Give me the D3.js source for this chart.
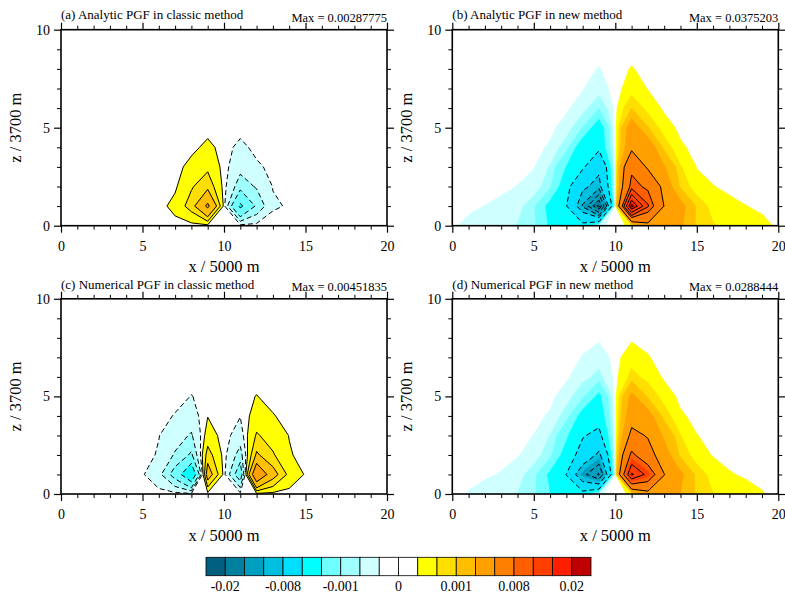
<!DOCTYPE html>
<html>
<head>
<meta charset="utf-8">
<script src="https://cdn.jsdelivr.net/npm/d3@7"></script>
<style>
  body { margin: 0; background: #fff; }
  text { font-family: "Liberation Serif", "DejaVu Serif", serif; fill: #000; }
</style>
</head>
<body>
<svg id="chart" width="785" height="594"></svg>
<script>
// all field values in units of 1e-3
const xTicks = [0, 5, 10, 15, 20];
const xMinor = [1, 2, 3, 4, 6, 7, 8, 9, 11, 12, 13, 14, 16, 17, 18, 19];
const zTicks = [0, 5, 10];
const zMinor = [1, 2, 3, 4, 6, 7, 8, 9];

const fillLevels = [-20, -15, -10, -8, -4, -2, -1, -0.5, -0.1, 0, 0.1, 0.5, 1, 2, 4, 8, 10, 15, 20];
const cbarLabels = ['-0.02', '-0.008', '-0.001', '0', '0.001', '0.008', '0.02'];
const cbarLabelAt = [1, 4, 7, 10, 13, 16, 19];

const titles = ['(a) Analytic PGF in classic method', '(b) Analytic PGF in new method',
                '(c) Numerical PGF in classic method', '(d) Numerical PGF in new method'];
const maxLabels = ['Max = 0.00287775', 'Max = 0.0375203', 'Max = 0.00451835', 'Max = 0.0288444'];

const linesA = [-2, -1, -0.5, -0.1, 0.1, 0.5, 1, 2];
const linesB = [-18, -16, -13, -10, -8, -4, 4, 8, 10, 13, 16, 18];
const linesC = [-2, -1, -0.5, -0.1, 0.1, 0.5, 1, 2];
const linesD = [-15, -12, -8, -4, 4, 8, 12, 15];

// rows are z = 0..10, columns x = 0..20
const fieldA = [
  [0,0,0,0,0,0,0,0,0,0,0,0,0,0,0,0,0,0,0,0,0],
  [0,0,0,0,0,0,0,0.2,0.7,2.2,0,-2.2,-0.87,-0.133,-0.078,0,0,0,0,0,0],
  [0,0,0,0,0,0,0,0.05,0.45,0.8,0,-0.75,-0.45,-0.09,-0.02,0,0,0,0,0,0],
  [0,0,0,0,0,0,0,0,0.2,0.4,0,-0.35,-0.15,-0.03,0,0,0,0,0,0,0],
  [0,0,0,0,0,0,0,0,0.02,0.18,0,-0.18,-0.02,0,0,0,0,0,0,0,0],
  [0,0,0,0,0,0,0,0,0,0,0,0,0,0,0,0,0,0,0,0,0],
  [0,0,0,0,0,0,0,0,0,0,0,0,0,0,0,0,0,0,0,0,0],
  [0,0,0,0,0,0,0,0,0,0,0,0,0,0,0,0,0,0,0,0,0],
  [0,0,0,0,0,0,0,0,0,0,0,0,0,0,0,0,0,0,0,0,0],
  [0,0,0,0,0,0,0,0,0,0,0,0,0,0,0,0,0,0,0,0,0],
  [0,0,0,0,0,0,0,0,0,0,0,0,0,0,0,0,0,0,0,0,0]
];

const fieldB = [
  [-0.07,-0.16,-0.22,-0.35,-0.55,-0.9,-2.2,-3.0,-3.0,-0.17,0,0.17,3.0,3.0,2.2,0.9,0.55,0.35,0.22,0.16,0.07],
  [0,-0.06,-0.105,-0.18,-0.3,-0.9,-2.5,-3.9,-10.3,-19,0,19,10.3,3.9,2.5,0.9,0.3,0.18,0.105,0.06,0],
  [0,0,-0.02,-0.04,-0.11,-0.2,-0.9,-3.0,-7.4,-9,0,9,7.4,3.0,0.9,0.2,0.11,0.04,0.02,0,0],
  [0,0,0,0,-0.02,-0.09,-0.55,-2.1,-3.5,-7.3,0,7.3,3.5,2.1,0.55,0.09,0.02,0,0,0,0],
  [0,0,0,0,0,-0.01,-0.15,-0.8,-3.0,-3.3,0,3.3,3.0,0.8,0.15,0.01,0,0,0,0,0],
  [0,0,0,0,0,0,-0.03,-0.25,-1.05,-2.9,0,2.9,1.05,0.25,0.03,0,0,0,0,0,0],
  [0,0,0,0,0,0,0,-0.05,-0.3,-1.0,0,1.0,0.3,0.05,0,0,0,0,0,0,0],
  [0,0,0,0,0,0,0,0,-0.09,-0.25,0,0.25,0.09,0,0,0,0,0,0,0,0],
  [0,0,0,0,0,0,0,0,-0.02,-0.12,0,0.12,0.02,0,0,0,0,0,0,0,0],
  [0,0,0,0,0,0,0,0,0,0,0,0,0,0,0,0,0,0,0,0,0],
  [0,0,0,0,0,0,0,0,0,0,0,0,0,0,0,0,0,0,0,0,0]
];

const fieldC = [
  [0,0,0,0,0,0,0,0,0,0,0,0,0,0,0,0,0,0,0,0,0],
  [0,0,0,0,0,-0.07,-0.35,-1.3,-3.2,1.4,0,-1.5,3.2,1.3,0.35,0.07,0,0,0,0,0],
  [0,0,0,0,0,0,-0.13,-0.55,-1.1,0.7,0,-0.7,1.1,0.55,0.13,0,0,0,0,0,0],
  [0,0,0,0,0,0,-0.09,-0.3,-0.55,0.25,0,-0.25,0.55,0.3,0.09,0,0,0,0,0,0],
  [0,0,0,0,0,0,0,-0.12,-0.25,0.09,0,-0.09,0.25,0.12,0,0,0,0,0,0,0],
  [0,0,0,0,0,0,0,0,-0.11,0,0,0,0.11,0,0,0,0,0,0,0,0],
  [0,0,0,0,0,0,0,0,0,0,0,0,0,0,0,0,0,0,0,0,0],
  [0,0,0,0,0,0,0,0,0,0,0,0,0,0,0,0,0,0,0,0,0],
  [0,0,0,0,0,0,0,0,0,0,0,0,0,0,0,0,0,0,0,0,0],
  [0,0,0,0,0,0,0,0,0,0,0,0,0,0,0,0,0,0,0,0,0],
  [0,0,0,0,0,0,0,0,0,0,0,0,0,0,0,0,0,0,0,0,0]
];

const fieldD = [
  [-0.02,-0.12,-0.2,-0.3,-0.52,-0.85,-2.0,-2.8,-2.8,-0.15,0,0.15,2.8,2.8,2.0,0.85,0.52,0.3,0.2,0.12,0.02],
  [0,-0.03,-0.07,-0.12,-0.3,-0.8,-2.3,-4.05,-11,-15.5,0,15.5,11,4.05,2.3,0.8,0.3,0.12,0.07,0.03,0],
  [0,0,-0.01,-0.03,-0.08,-0.25,-0.85,-2.7,-5,-8.83,0,8.83,5,2.7,0.85,0.25,0.08,0.03,0.01,0,0],
  [0,0,0,0,-0.01,-0.11,-0.52,-1.8,-3.82,-4.67,0,4.67,3.82,1.8,0.52,0.11,0.01,0,0,0,0],
  [0,0,0,0,0,-0.01,-0.15,-0.75,-2.6,-3.0,0,3.0,2.6,0.75,0.15,0.01,0,0,0,0,0],
  [0,0,0,0,0,0,-0.02,-0.3,-0.9,-2.36,0,2.36,0.9,0.3,0.02,0,0,0,0,0,0],
  [0,0,0,0,0,0,0,-0.05,-0.35,-0.66,0,0.66,0.35,0.05,0,0,0,0,0,0,0],
  [0,0,0,0,0,0,0,0,-0.12,-0.3,0,0.3,0.12,0,0,0,0,0,0,0,0],
  [0,0,0,0,0,0,0,0,-0.01,-0.05,0,0.05,0.01,0,0,0,0,0,0,0,0],
  [0,0,0,0,0,0,0,0,0,0,0,0,0,0,0,0,0,0,0,0,0],
  [0,0,0,0,0,0,0,0,0,0,0,0,0,0,0,0,0,0,0,0,0]
];

// colour table, one per band (20 bands for 19 levels)
const palette = ['#005f7f','#007f9f','#009fbf','#00bfdf','#00dfff','#00ffff','#6fffff','#9fffff','#cfffff',
                 '#ffffff','#ffffff',
                 '#ffff00','#ffdf00','#ffbf00','#ff9f00','#ff7f00','#ff5f00','#ff3f00','#ff1f00','#bf0000'];

const svg = d3.select('#chart');
const nx = 21, nz = 11;
const plotW = 326;
const serif = '"Liberation Serif", "DejaVu Serif", serif';

const panels = [
  { field: fieldA, lines: linesA, left: 61,  top: 29.7,  h: 196 },
  { field: fieldB, lines: linesB, left: 452.3, top: 29.7, h: 196 },
  { field: fieldC, lines: linesC, left: 61,  top: 298.8, h: 195.2 },
  { field: fieldD, lines: linesD, left: 452.3, top: 298.8, h: 195.2 }
];

panels.forEach(function (p, i) {
  let xs = d3.scaleLinear().domain([0, 20]).range([p.left, p.left + plotW]);
  let zs = d3.scaleLinear().domain([0, 10]).range([p.top + p.h, p.top]);

  // contour grid coords -> data -> pixels
  let path = d3.geoPath(d3.geoTransform({
    point: function (x, y) { this.stream.point(xs(x - 0.5), zs(y - 0.5)); }
  }));

  let clipId = 'clip' + i;
  svg.append('clipPath').attr('id', clipId)
    .append('rect')
    .attr('x', p.left).attr('y', p.top)
    .attr('width', plotW).attr('height', p.h);

  let g = svg.append('g').attr('clip-path', 'url(#' + clipId + ')');

  let values = p.field.flat();
  let negValues = values.map(v => -v);
  let gen = d3.contours().size([nx, nz]);

  // filled bands, lowest first
  g.selectAll('path.band')
    .data(gen.thresholds(fillLevels)(values))
    .enter().append('path')
    .attr('class', 'band')
    .attr('d', path)
    .attr('fill', (d, k) => palette[k + 1])
    .attr('fill-rule', 'evenodd')
    .attr('stroke', (d, k) => palette[k + 1])
    .attr('stroke-width', 0.4);

  // contour lines, negative ones dashed
  p.lines.forEach(function (lv) {
    let c = lv > 0 ? gen.thresholds([lv])(values) : gen.thresholds([-lv])(negValues);
    g.append('path')
      .datum(c[0])
      .attr('d', path)
      .attr('fill', 'none')
      .attr('stroke', '#000')
      .attr('stroke-width', 1)
      .attr('stroke-linejoin', 'round')
      .attr('stroke-dasharray', lv < 0 ? '5,3' : null);
  });

  // axes, ticks pointing outward
  let bottom = p.top + p.h, right = p.left + plotW;
  let axes = [
    [d3.axisBottom(xs), 'translate(0,' + bottom + ')', xTicks, xMinor, true, 8],
    [d3.axisTop(xs), 'translate(0,' + p.top + ')', xTicks, xMinor, false, 3],
    [d3.axisLeft(zs), 'translate(' + p.left + ',0)', zTicks, zMinor, true, 4],
    [d3.axisRight(zs), 'translate(' + right + ',0)', zTicks, zMinor, false, 3]
  ];
  axes.forEach(function (a) {
    let major = svg.append('g').attr('transform', a[1])
      .call(a[0].tickValues(a[2]).tickSize(7).tickSizeOuter(0).tickPadding(a[5])
        .tickFormat(a[4] ? d3.format('d') : ''));
    major.attr('font-family', serif).attr('font-size', 14);
    major.select('.domain').remove();
    major.selectAll('line').attr('stroke-width', 1.2);
    major.selectAll('text').attr('font-size', 14).attr('font-family', serif);
    let minor = svg.append('g').attr('transform', a[1])
      .call(a[0].tickValues(a[3]).tickSize(4).tickSizeOuter(0).tickFormat(''));
    minor.select('.domain').remove();
  });

  svg.append('rect')
    .attr('x', p.left).attr('y', p.top)
    .attr('width', plotW).attr('height', p.h)
    .attr('fill', 'none').attr('stroke', '#000').attr('stroke-width', 1.6);

  // titles
  svg.append('text')
    .attr('x', p.left).attr('y', p.top - 10.3)
    .attr('font-size', 13).text(titles[i]);
  svg.append('text')
    .attr('x', right).attr('y', p.top - 8.2)
    .attr('text-anchor', 'end')
    .attr('font-size', 12.5).text(maxLabels[i]);

  svg.append('text')
    .attr('x', p.left + plotW / 2).attr('y', bottom + 46.5)
    .attr('text-anchor', 'middle')
    .attr('font-size', 16.5).text('x / 5000 m');
  svg.append('text')
    .attr('transform', 'translate(' + (p.left - 40) + ',' + (p.top + p.h / 2) + ') rotate(-90)')
    .attr('text-anchor', 'middle')
    .attr('font-size', 16.5).text('z / 3700 m');
});

// label bar
let bandIdx = d3.range(palette.length);
let cb = d3.scaleBand().domain(bandIdx).range([206, 591]);
let cbTop = 557.3, cbH = 18.4;

svg.append('g').selectAll('rect')
  .data(bandIdx)
  .enter().append('rect')
  .attr('x', d => cb(d))
  .attr('y', cbTop)
  .attr('width', cb.bandwidth())
  .attr('height', cbH)
  .attr('fill', d => palette[d])
  .attr('stroke', '#000')
  .attr('stroke-width', 0.8);

svg.append('g').selectAll('text')
  .data(cbarLabels)
  .enter().append('text')
  .attr('x', (d, k) => cb(cbarLabelAt[k]))
  .attr('y', 590.5)
  .attr('text-anchor', 'middle')
  .attr('font-size', 14)
  .text(d => d);
</script>
</body>
</html>
